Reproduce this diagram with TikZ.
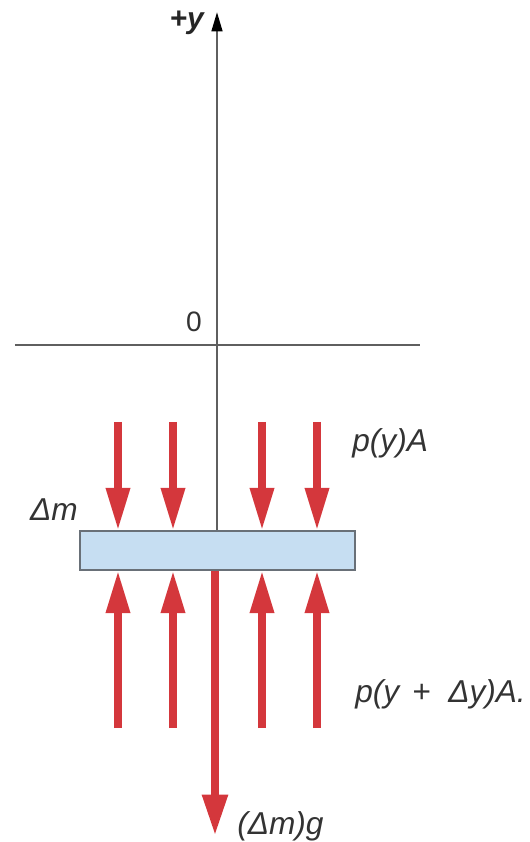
\documentclass[tikz,border=0pt]{standalone}
\usepackage{fontspec}
\setmainfont{Liberation Sans}
\usepackage{tikz}
\usetikzlibrary{arrows.meta,positioning}
\usepackage{xcolor}
\definecolor{cForce}{RGB}{212,55,60}
\definecolor{cAxis}{RGB}{95,95,95}
\definecolor{cSlab}{RGB}{198,222,242}
\definecolor{cEdge}{RGB}{105,112,120}
\tikzset{
  axisline/.style={cAxis,line width=1.5pt},
  force/.style={cForce,line width=4pt,-{Triangle[length=24pt,width=13pt]}},
  lbl/.style={font=\fontsize{18}{21}\selectfont\itshape,text=black!80,inner sep=0pt}
}

\begin{document}
\begin{tikzpicture}
  \useasboundingbox (-4.34,-9.94) rectangle (6.24,6.9);
  % Slab
  \node[draw=cEdge,line width=1pt,fill=cSlab,minimum width=5.5cm,minimum height=0.78cm,inner sep=0pt]
    (slab) at (0.01,-4.11) {};
  % Axes
  \coordinate (ytop) at (0,6.66);
  \draw[axisline,-{Triangle[length=11pt,width=6pt,color=black]}] (slab.north -| ytop) -- (ytop);
  \node[anchor=east,font=\fontsize{17}{20}\selectfont\bfseries\itshape,text=black!85,inner sep=0pt]
    (ylabel) at (-0.26,6.44) {+y};
  \coordinate (xleft) at (-4.04,0);
  \coordinate (xright) at (4.06,0);
  \draw[axisline] (xleft) -- (xright);
  \node[font=\fontsize{16}{19}\selectfont,text=black!80] (zero) at (-0.46,0.46) {0};
  % Pressure from above
  \coordinate (d1) at (-1.98,-1.54);
  \coordinate (d2) at (-0.88,-1.54);
  \coordinate (d3) at (0.9,-1.54);
  \coordinate (d4) at (2.0,-1.54);
  \draw[force] (d1) -- (d1 |- slab.north);
  \draw[force] (d2) -- (d2 |- slab.north);
  \draw[force] (d3) -- (d3 |- slab.north);
  \draw[force] (d4) -- (d4 |- slab.north);
  % Pressure from below
  \coordinate (u1) at (-1.98,-7.66);
  \coordinate (u2) at (-0.88,-7.66);
  \coordinate (u3) at (0.9,-7.66);
  \coordinate (u4) at (2.0,-7.66);
  \draw[force] (u1) -- (u1 |- slab.south);
  \draw[force] (u2) -- (u2 |- slab.south);
  \draw[force] (u3) -- (u3 |- slab.south);
  \draw[force] (u4) -- (u4 |- slab.south);
  % Weight
  \coordinate (wtip) at (-0.04,-9.8);
  \draw[force,-{Triangle[length=23pt,width=14pt]}] (wtip |- slab.south) -- (wtip);
  % Labels
  \node[lbl,anchor=west] (ptop) at (2.7,-1.96) {p(y)A};
  \node[lbl,anchor=east] (dm) at (-2.78,-3.3) {Δm};
  \node[lbl,anchor=west] (pbot) at (2.76,-6.98) {p(y\hspace{0.08cm} + \hspace{0.18cm}Δy)A.};
  \node[lbl,anchor=west] (wlabel) at (0.4,-9.62) {(Δm)g};
\end{tikzpicture}
\end{document}
